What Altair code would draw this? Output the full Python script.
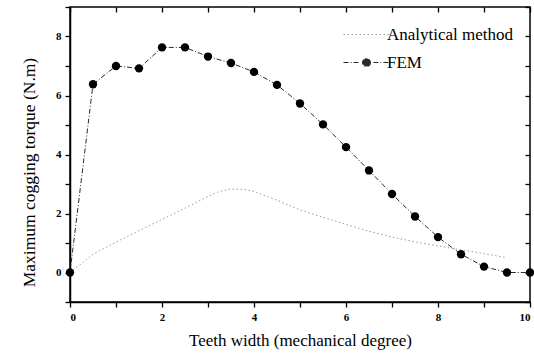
import altair as alt
import pandas as pd

fem_x = [0, 0.5, 1, 1.5, 2, 2.5, 3, 3.5, 4, 4.5, 5, 5.5, 6, 6.5, 7, 7.5, 8, 8.5, 9, 9.5, 10]
fem_y = [0.0, 6.38, 7.0, 6.92, 7.63, 7.63, 7.32, 7.1, 6.8, 6.36, 5.73, 5.02, 4.25, 3.46, 2.66, 1.9, 1.2, 0.62, 0.2, 0.0, 0.0]

ana_x = [0, 0.25, 0.5, 1, 1.5, 2, 2.5, 3, 3.25, 3.5, 3.75, 4, 4.5, 5, 5.5, 6, 6.5, 7, 7.5, 8, 8.5, 9, 9.5]
ana_y = [0.0, 0.3, 0.62, 1.03, 1.42, 1.8, 2.18, 2.58, 2.75, 2.83, 2.82, 2.75, 2.45, 2.12, 1.87, 1.63, 1.4, 1.2, 1.04, 0.9, 0.77, 0.64, 0.5]

series = ["Analytical method", "FEM"]

df = pd.concat([
    pd.DataFrame({"x": ana_x, "y": ana_y, "s": series[0]}),
    pd.DataFrame({"x": fem_x, "y": fem_y, "s": series[1]}),
])
fem_df = pd.DataFrame({"x": fem_x, "y": fem_y, "s": series[1]})

FONT = "Liberation Serif"
xs = alt.Scale(domain=[0, 10], nice=False, zero=False)
ys = alt.Scale(domain=[-1, 9], nice=False, zero=False)
tick_vals_x = list(range(0, 11))
tick_vals_y = list(range(-1, 10))

x_axis = alt.Axis(values=tick_vals_x, labelExpr="datum.value % 2 == 0 ? datum.label : ''",
                  title="Teeth width (mechanical degree)", grid=False, tickSize=5,
                  tickColor="black", domainColor="black", domainWidth=1.5, tickWidth=1.3,
                  labelFont=FONT, labelFontWeight="bold", labelFontSize=11, labelColor="black",
                  titleFont=FONT, titleFontSize=17, titleFontWeight="normal", titleColor="black",
                  titlePadding=10, labelPadding=4)
y_axis = alt.Axis(values=tick_vals_y, labelExpr="datum.value % 2 == 0 && datum.value >= 0 ? datum.label : ''",
                  title="Maximum cogging torque (N.m)", grid=False, tickSize=5,
                  tickColor="black", domainColor="black", domainWidth=1.5, tickWidth=1.3,
                  labelFont=FONT, labelFontWeight="bold", labelFontSize=11, labelColor="black",
                  titleFont=FONT, titleFontSize=17.5, titleFontWeight="normal", titleColor="black",
                  titlePadding=17, labelPadding=4, titleY=165)

ana_symbol = "M-2,0H2"
fem_symbol = "M-2,0H-0.6M0.6,0H2M0.34,0A0.34,0.34 0 1,1 -0.34,0A0.34,0.34 0 1,1 0.34,0Z"
color_scale = alt.Scale(domain=series, range=["#9a9a9a", "#2a2a2a"])
dash_scale = alt.Scale(domain=series, range=[[1.5, 2.5], [5, 2, 1, 2]])
shape_scale = alt.Scale(domain=series, range=[ana_symbol, fem_symbol])

legend = alt.Legend(title=None, orient="none", legendX=284, legendY=15,
                    labelFont=FONT, labelFontSize=17, labelColor="black",
                    rowPadding=7, symbolSize=529, symbolStrokeWidth=1.2,
                    symbolOpacity=1, labelOffset=8)

lines = alt.Chart(df).mark_line(strokeWidth=1).encode(
    x=alt.X("x:Q", scale=xs, axis=x_axis),
    y=alt.Y("y:Q", scale=ys, axis=y_axis),
    color=alt.Color("s:N", scale=color_scale, legend=legend),
    strokeDash=alt.StrokeDash("s:N", scale=dash_scale, legend=legend),
    detail="s:N",
)

points = alt.Chart(fem_df).mark_point(filled=True, size=70, opacity=1, color="black", shape="circle").encode(
    x=alt.X("x:Q", scale=xs, axis=None),
    y=alt.Y("y:Q", scale=ys, axis=None),
)

legend_layer = alt.Chart(df).transform_filter("false").mark_point(filled=True, opacity=1).encode(
    x=alt.X("x:Q", scale=xs, axis=None),
    y=alt.Y("y:Q", scale=ys, axis=None),
    shape=alt.Shape("s:N", scale=shape_scale, legend=legend),
    color=alt.Color("s:N", scale=color_scale, legend=legend),
)

frame = alt.Chart(fem_df).mark_point(opacity=0).encode(
    x=alt.X("x:Q", scale=xs, axis=alt.Axis(orient="top", values=tick_vals_x, labels=False, title=None,
                                            domain=False, grid=False, tickSize=5, offset=-5,
                                            tickColor="black", tickWidth=1.3)),
    y=alt.Y("y:Q", scale=ys, axis=alt.Axis(orient="right", values=tick_vals_y, labels=False, title=None,
                                            domain=False, grid=False, tickSize=5, offset=-5,
                                            tickColor="black", tickWidth=1.3)),
)

chart = alt.layer(lines, points, legend_layer, frame).resolve_axis(x="independent", y="independent").properties(
    width=460, height=295,
    autosize=alt.AutoSizeParams(type="none"),
    padding={"left": 70, "top": 7, "right": 4, "bottom": 55},
    background="white",
).configure_view(stroke="black", strokeWidth=1.5)

chart.save("out.html", embed_options={"renderer": "svg", "actions": False})
